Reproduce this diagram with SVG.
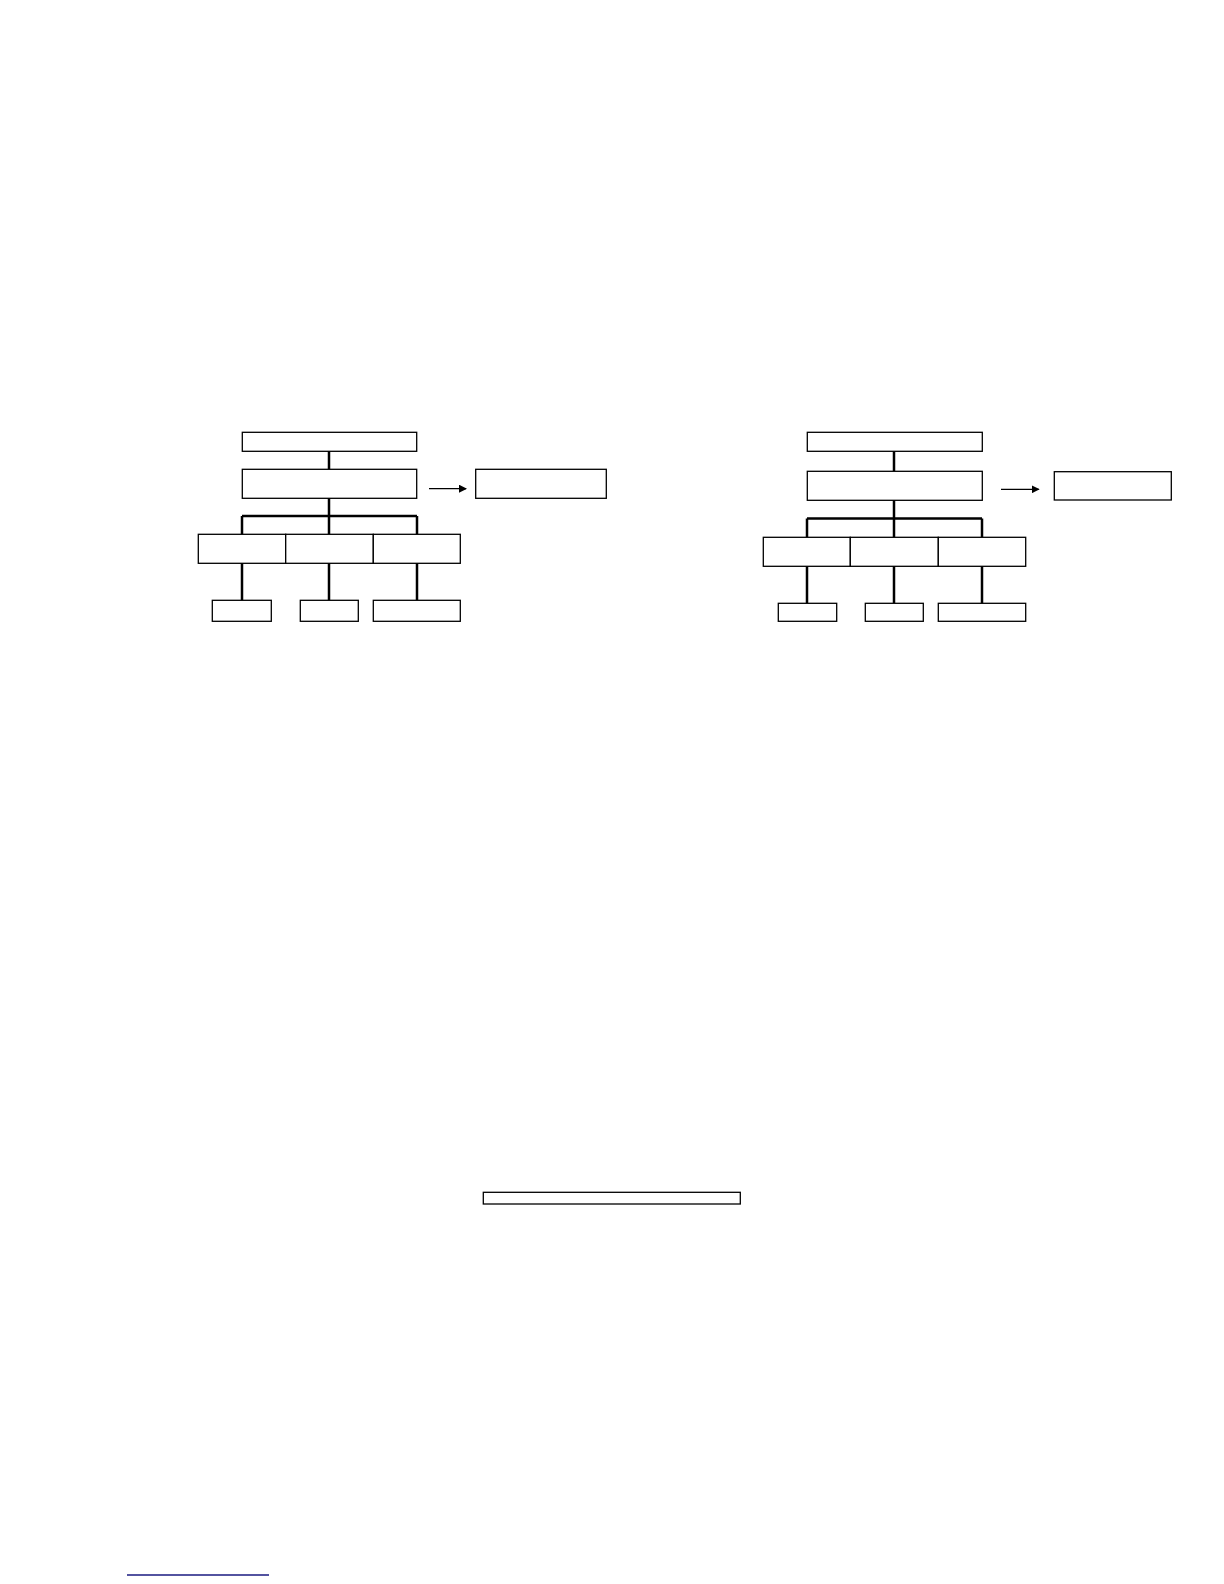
<svg xmlns="http://www.w3.org/2000/svg" width="1224" height="1584" viewBox="0 0 1224 1584">
<style>
.box{fill:#fff;stroke:#000;stroke-width:1.3}
.conn{fill:none;stroke:#000;stroke-width:2.5}
.arr{fill:none;stroke:#000;stroke-width:1.2}
</style>
<defs>
<marker id="ah" markerWidth="8" markerHeight="8" refX="7" refY="4" orient="auto" markerUnits="userSpaceOnUse">
<path d="M0,0 L8,4 L0,8 Z" fill="#000"/>
</marker>
</defs>
<rect width="1224" height="1584" fill="#fff"/>
<g id="connectors">
<path class="conn" d="M329,451 V469 M329,498 V516 M242,516 H417 M242,516 V534 M329,516 V534 M417,516 V534 M242,563 V600 M329,563 V600 M417,563 V600"/>
<line class="arr" x1="429" y1="488.7" x2="466" y2="488.7" marker-end="url(#ah)"/>
<path class="conn" d="M894,451 V471 M894,500 V518.5 M807,518.5 H982 M807,518.5 V537 M894,518.5 V537 M982,518.5 V537 M807,566 V603 M894,566 V603 M982,566 V603"/>
<line class="arr" x1="1001" y1="489.3" x2="1038.7" y2="489.3" marker-end="url(#ah)"/>
</g>
<g id="left-top"><rect class="box" x="242.3" y="432.3" width="174.4" height="19"/></g>
<g id="left-mid"><rect class="box" x="242.3" y="469.3" width="174.4" height="29"/></g>
<g id="left-side"><rect class="box" x="475.7" y="469.3" width="130.6" height="29"/></g>
<g id="left-row-1"><rect class="box" x="198.3" y="534.3" width="87.4" height="29"/></g>
<g id="left-row-2"><rect class="box" x="285.7" y="534.3" width="87.6" height="29"/></g>
<g id="left-row-3"><rect class="box" x="373.3" y="534.3" width="87" height="29"/></g>
<g id="left-leaf-1"><rect class="box" x="212.3" y="600.3" width="59" height="21"/></g>
<g id="left-leaf-2"><rect class="box" x="300.3" y="600.3" width="58" height="21"/></g>
<g id="left-leaf-3"><rect class="box" x="373.3" y="600.3" width="87" height="21"/></g>
<g id="right-top"><rect class="box" x="807.3" y="432.3" width="175" height="19"/></g>
<g id="right-mid"><rect class="box" x="807.3" y="471.3" width="175" height="29"/></g>
<g id="right-side"><rect class="box" x="1054.3" y="471.7" width="117" height="28.3"/></g>
<g id="right-row-1"><rect class="box" x="763.3" y="537.3" width="87" height="29"/></g>
<g id="right-row-2"><rect class="box" x="850.3" y="537.3" width="88" height="29"/></g>
<g id="right-row-3"><rect class="box" x="938.3" y="537.3" width="87.4" height="29"/></g>
<g id="right-leaf-1"><rect class="box" x="778.3" y="603.3" width="58.4" height="18"/></g>
<g id="right-leaf-2"><rect class="box" x="865.3" y="603.3" width="58" height="18"/></g>
<g id="right-leaf-3"><rect class="box" x="938.3" y="603.3" width="87.4" height="18"/></g>
<g id="bottom-box"><rect class="box" x="483.3" y="1192.3" width="257" height="11.7"/></g>
<g id="footer-line"><line x1="127" y1="1575" x2="269" y2="1575" stroke="#1a1a80" stroke-width="1.3"/></g>
</svg>
